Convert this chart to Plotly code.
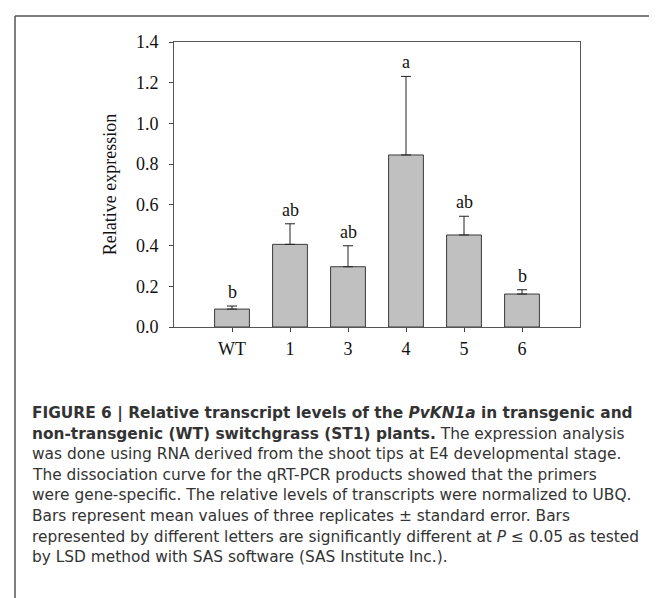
import plotly.graph_objects as go

categories = ["WT", "1", "3", "4", "5", "6"]
means = [0.088, 0.406, 0.296, 0.845, 0.452, 0.162]
se_up = [0.015, 0.101, 0.103, 0.386, 0.092, 0.021]
letters = ["b", "ab", "ab", "a", "ab", "b"]
y_ticks = [0.0, 0.2, 0.4, 0.6, 0.8, 1.0, 1.2, 1.4]
y_ticktext = ["0.0", "0.2", "0.4", "0.6", "0.8", "1.0", "1.2", "1.4"]

caption_lines = [
    "<b>FIGURE 6 | Relative transcript levels of the <i>PvKN1a</i> in transgenic and</b>",
    "<b>non-transgenic (WT) switchgrass (ST1) plants.</b> The expression analysis",
    "was done using RNA derived from the shoot tips at E4 developmental stage.",
    "The dissociation curve for the qRT-PCR products showed that the primers",
    "were gene-specific. The relative levels of transcripts were normalized to UBQ.",
    "Bars represent mean values of three replicates \u00b1 standard error. Bars",
    "represented by different letters are significantly different at <i>P</i> \u2264 0.05 as tested",
    "by LSD method with SAS software (SAS Institute Inc.).",
]

W, H = 657, 598
L, R, T, B = 166, 572, 34, 319

fig = go.Figure()
fig.add_trace(go.Bar(
    x=categories, y=means, width=0.6,
    marker=dict(color="#c0c0c0", line=dict(color="#3a3a3a", width=1)),
    error_y=dict(type="data", array=se_up, arrayminus=[0] * len(se_up),
                 symmetric=False, color="#222222", thickness=1, width=5),
    showlegend=False,
))

serif = "Liberation Serif"
for i, (m, s, lt) in enumerate(zip(means, se_up, letters)):
    fig.add_annotation(x=i, y=m + s, text=lt, showarrow=False, yshift=14,
                       yanchor="middle", font=dict(family=serif, size=18, color="#111"))

def px_x(p):
    return (p - L) / (R - L)

def px_y(p):
    return (B - p) / (B - T)

# caption
y0 = 405
for i, line in enumerate(caption_lines):
    fig.add_annotation(xref="paper", yref="paper", x=px_x(22), y=px_y(y0 + i * 20.6),
                       text=line, showarrow=False, xanchor="left", yanchor="middle",
                       font=dict(family="DejaVu Sans", size=15.4, color="#333333"))

# outer figure frame
fig.add_shape(type="line", xref="paper", yref="paper",
              x0=px_x(7), x1=px_x(700), y0=px_y(8), y1=px_y(8),
              line=dict(color="#555555", width=1.5))
fig.add_shape(type="line", xref="paper", yref="paper",
              x0=px_x(7), x1=px_x(7), y0=px_y(8), y1=px_y(640),
              line=dict(color="#555555", width=1.5))

fig.update_layout(
    width=W, height=H,
    margin=dict(l=L, r=W - R, t=T, b=H - B, pad=0),
    paper_bgcolor="white", plot_bgcolor="white",
    font=dict(family=serif, size=18, color="#111"),
)
fig.update_xaxes(range=[-1, 6], showline=True, linecolor="#555", linewidth=1, mirror=True,
                 ticks="outside", ticklen=4, tickcolor="#444", showgrid=False,
                 tickfont=dict(family=serif, size=18, color="#111"), ticklabelstandoff=1)
fig.update_yaxes(range=[0, 1.4], showline=True, linecolor="#555", linewidth=1, mirror=True,
                 ticks="outside", ticklen=4, tickcolor="#444", showgrid=False, zeroline=False,
                 tickvals=y_ticks, ticktext=y_ticktext, ticklabelstandoff=7,
                 tickfont=dict(family=serif, size=18, color="#111"),
                 title=dict(text="Relative expression", font=dict(family=serif, size=18, color="#111"),
                            standoff=14))

fig.write_html("out.html")
